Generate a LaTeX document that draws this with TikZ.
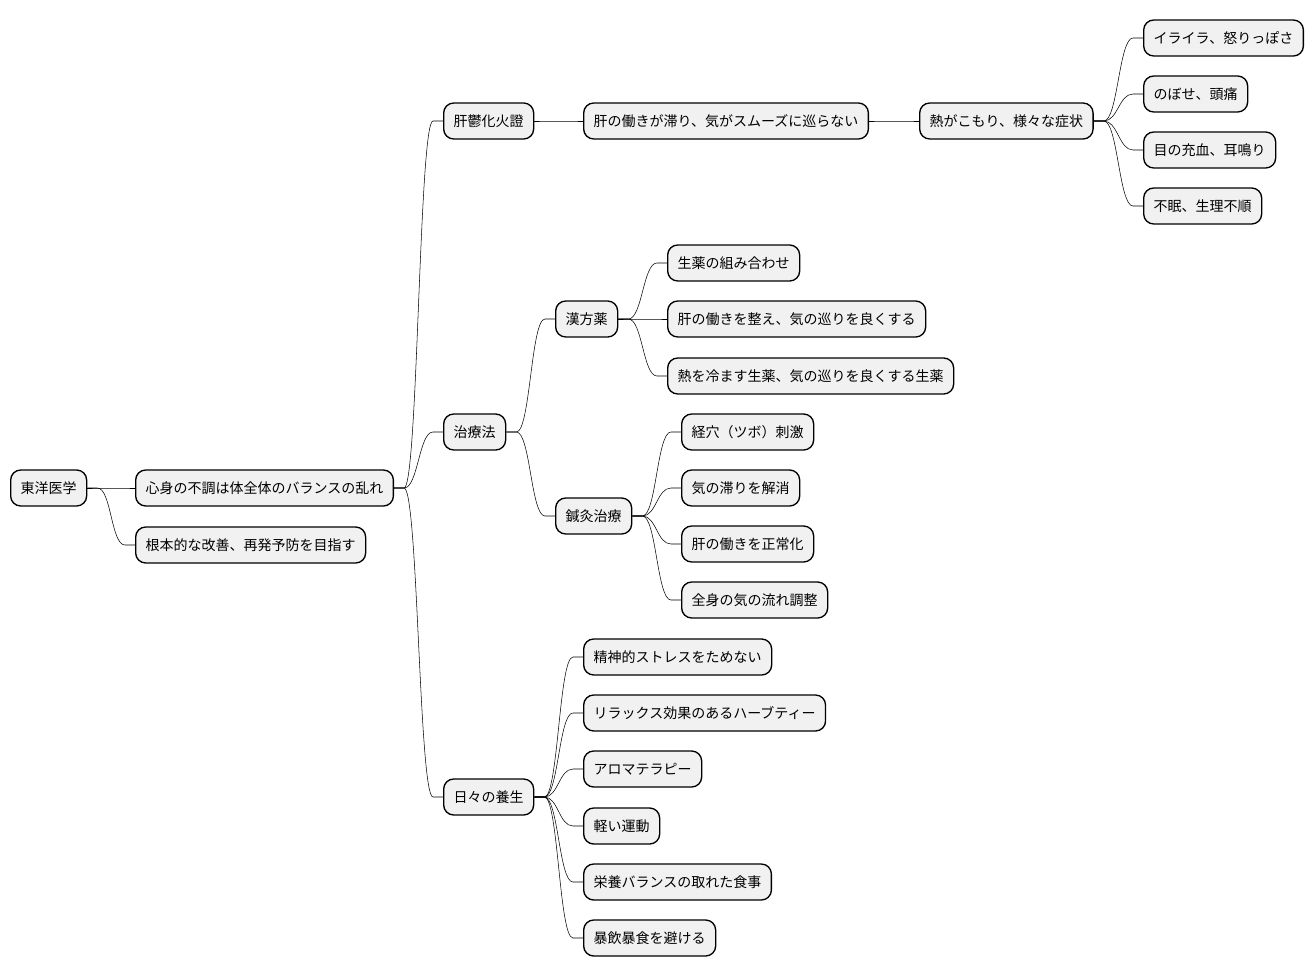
\documentclass[tikz,border=0pt]{standalone}
\usepackage{fontspec}
\setmainfont{Noto Sans CJK JP}
\definecolor{boxfill}{HTML}{F1F1F1}

\begin{document}
\begin{tikzpicture}[x=0.75pt, y=-0.75pt,
	every node/.style={font=\fontsize{10.5pt}{12pt}\selectfont},
	box/.style={draw, line width=1pt, fill=boxfill, rounded corners=7.5pt, minimum height=27pt, inner xsep=7.5pt, anchor=west},
	link/.style={line width=0.75pt, to path={-- ++(10,0) .. controls +(14,0) and +(-14,0) .. ([xshift=-7.5pt]\tikztotarget.west) -- (\tikztotarget.west)}}]
	\path[fill=white, use as bounding box] (0,0) rectangle (1314,978);
	\node[box] (root) at (10,488) {東洋医学};
	\node[box] (balance) at (135,488) {心身の不調は体全体のバランスの乱れ};
	\node[box] (cure) at (135,545) {根本的な改善、再発予防を目指す};
	\node[box] (kanutsu) at (443,121) {肝鬱化火證};
	\node[box] (stagnate) at (583,121) {肝の働きが滞り、気がスムーズに巡らない};
	\node[box] (heat) at (919,121) {熱がこもり、様々な症状};
	\node[box] (s1) at (1143,38) {イライラ、怒りっぽさ};
	\node[box] (s2) at (1143,94) {のぼせ、頭痛};
	\node[box] (s3) at (1143,150) {目の充血、耳鳴り};
	\node[box] (s4) at (1143,206) {不眠、生理不順};
	\node[box] (therapy) at (443,432) {治療法};
	\node[box] (kampo) at (555,319) {漢方薬};
	\node[box] (k1) at (667,263) {生薬の組み合わせ};
	\node[box] (k2) at (667,319) {肝の働きを整え、気の巡りを良くする};
	\node[box] (k3) at (667,376) {熱を冷ます生薬、気の巡りを良くする生薬};
	\node[box] (acu) at (555,516) {鍼灸治療};
	\node[box] (a1) at (681,432) {経穴（ツボ）刺激};
	\node[box] (a2) at (681,488) {気の滞りを解消};
	\node[box] (a3) at (681,544) {肝の働きを正常化};
	\node[box] (a4) at (681,600) {全身の気の流れ調整};
	\node[box] (daily) at (443,797) {日々の養生};
	\node[box] (d1) at (583,657) {精神的ストレスをためない};
	\node[box] (d2) at (583,713) {リラックス効果のあるハーブティー};
	\node[box] (d3) at (583,769) {アロマテラピー};
	\node[box] (d4) at (583,826) {軽い運動};
	\node[box] (d5) at (583,882) {栄養バランスの取れた食事};
	\node[box] (d6) at (583,938) {暴飲暴食を避ける};
	\foreach \c in {balance, cure} \draw (root.east) to[link] (\c);
	\foreach \c in {kanutsu, therapy, daily} \draw (balance.east) to[link] (\c);
	\draw (kanutsu.east) to[link] (stagnate);
	\draw (stagnate.east) to[link] (heat);
	\foreach \c in {s1, s2, s3, s4} \draw (heat.east) to[link] (\c);
	\foreach \c in {kampo, acu} \draw (therapy.east) to[link] (\c);
	\foreach \c in {k1, k2, k3} \draw (kampo.east) to[link] (\c);
	\foreach \c in {a1, a2, a3, a4} \draw (acu.east) to[link] (\c);
	\foreach \c in {d1, d2, d3, d4, d5, d6} \draw (daily.east) to[link] (\c);
\end{tikzpicture}
\end{document}
